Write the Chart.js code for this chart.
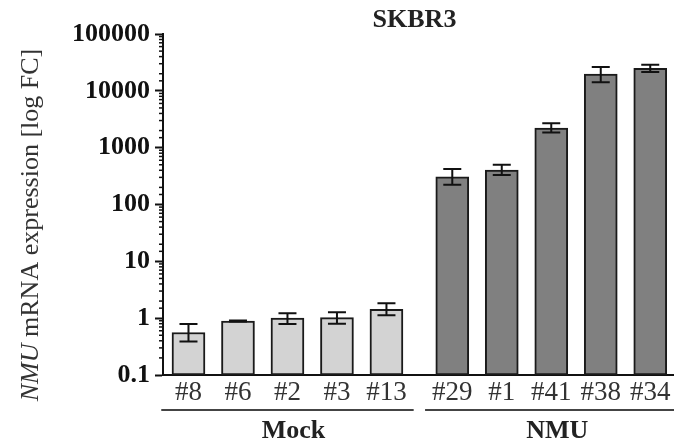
<!DOCTYPE html>
<html>
<head>
<meta charset="utf-8">
<script src="https://cdn.jsdelivr.net/npm/chart.js@4/dist/chart.umd.min.js"></script>
<style>
  body { margin: 0; background: #fff; }
  #wrap { width: 674px; height: 445px; position: relative; }
</style>
</head>
<body>
<div id="wrap"><canvas id="barChart"></canvas></div>
<script>
// Data
const mockLabels = ['#8', '#6', '#2', '#3', '#13'];
const nmuLabels = ['#29', '#1', '#41', '#38', '#34'];
const mockValues = [0.56, 0.89, 1.0, 1.02, 1.43];
const mockLow = [0.39, 0.87, 0.79, 0.80, 1.12];
const mockHigh = [0.79, 0.91, 1.22, 1.27, 1.83];
const nmuValues = [308, 405, 2220, 19800, 24900];
const nmuLow = [223, 331, 1840, 14100, 21500];
const nmuHigh = [422, 502, 2690, 26300, 28800];
const yTicks = [0.1, 1, 10, 100, 1000, 10000, 100000];
const groupNames = ['Mock', 'NMU'];
const chartTitle = 'SKBR3';

const serif = '"Liberation Serif", "Times New Roman", serif';
const groupGap = 0.33;

const labels = mockLabels.concat(nmuLabels);
const values = mockValues.concat(nmuValues);
const lows = mockLow.concat(nmuLow);
const highs = mockHigh.concat(nmuHigh);
const positions = labels.map((l, i) => i < mockLabels.length ? i : i + groupGap);
const colors = labels.map((l, i) => i < mockLabels.length ? '#d3d3d3' : '#808080');

function isPow10(v) {
  const e = Math.log10(v);
  return Math.abs(e - Math.round(e)) < 1e-9;
}

const extras = {
  id: 'extras',
  afterDatasetsDraw(chart) {
    const ctx = chart.ctx;
    const ys = chart.scales.y;
    const meta = chart.getDatasetMeta(0);
    ctx.save();
    ctx.strokeStyle = '#111';
    ctx.lineWidth = 2;
    // error bars
    meta.data.forEach((bar, i) => {
      const yl = ys.getPixelForValue(lows[i]);
      const yh = ys.getPixelForValue(highs[i]);
      ctx.beginPath();
      ctx.moveTo(bar.x, yl); ctx.lineTo(bar.x, yh);
      ctx.moveTo(bar.x - 9, yl); ctx.lineTo(bar.x + 9, yl);
      ctx.moveTo(bar.x - 9, yh); ctx.lineTo(bar.x + 9, yh);
      ctx.stroke();
    });
    // minor ticks on the log axis
    ctx.lineWidth = 1.5;
    ys.ticks.forEach(t => {
      if (isPow10(t.value)) return;
      const y = ys.getPixelForValue(t.value);
      ctx.beginPath();
      ctx.moveTo(ys.right - 4, y); ctx.lineTo(ys.right, y);
      ctx.stroke();
    });
    ctx.restore();
  },
  afterDraw(chart) {
    const ctx = chart.ctx;
    const xs = chart.scales.x;
    const area = chart.chartArea;
    ctx.save();
    // title
    ctx.fillStyle = '#222';
    ctx.font = 'bold 26px ' + serif;
    ctx.textAlign = 'center';
    ctx.textBaseline = 'middle';
    ctx.fillText(chartTitle, (area.left + area.right) / 2 - 4, 20);

    // group lines and names
    const slot = xs.getPixelForValue(1) - xs.getPixelForValue(0);
    const groups = [positions.slice(0, mockLabels.length), positions.slice(mockLabels.length)];
    groups.forEach((g, k) => {
      const a = xs.getPixelForValue(g[0]) - 0.55 * slot;
      const b = Math.min(chart.width, xs.getPixelForValue(g[g.length - 1]) + 0.55 * slot);
      ctx.strokeStyle = '#444';
      ctx.lineWidth = 2;
      ctx.beginPath();
      ctx.moveTo(a, 410); ctx.lineTo(b, 410);
      ctx.stroke();
      const c = (xs.getPixelForValue(g[0]) + xs.getPixelForValue(g[g.length - 1])) / 2 + 6;
      ctx.fillStyle = '#222';
      ctx.font = 'bold 26px ' + serif;
      ctx.fillText(groupNames[k], c, 431);
    });

    // y axis title with italic gene name
    ctx.translate(31, 225);
    ctx.rotate(-Math.PI / 2);
    ctx.textAlign = 'left';
    ctx.fillStyle = '#333';
    const p1 = 'NMU';
    const p2 = ' mRNA expression [log FC]';
    ctx.font = 'italic 26px ' + serif;
    const w1 = ctx.measureText(p1).width;
    ctx.font = '26px ' + serif;
    const w2 = ctx.measureText(p2).width;
    const x0 = -(w1 + w2) / 2;
    ctx.font = 'italic 26px ' + serif;
    ctx.fillText(p1, x0, 0);
    ctx.font = '26px ' + serif;
    ctx.fillText(p2, x0 + w1, 0);
    ctx.restore();
  }
};

const ctx = document.getElementById('barChart').getContext('2d');

new Chart(ctx, {
  type: 'bar',
  data: {
    datasets: [
      {
        data: positions.map((p, i) => ({ x: p, y: values[i] })),
        backgroundColor: colors,
        borderColor: '#1a1a1a',
        borderWidth: 2,
        borderSkipped: false,
        barThickness: 33
      }
    ]
  },
  options: {
    responsive: true,
    maintainAspectRatio: false,
    animation: false,
    layout: { padding: { top: 34, left: 0, right: 0, bottom: 0 } },
    plugins: {
      legend: { display: false },
      tooltip: { enabled: false }
    },
    scales: {
      x: {
        type: 'linear',
        min: -0.515,
        max: 9.81,
        offset: false,
        grid: { display: false },
        border: { display: true, color: '#111', width: 2 },
        afterBuildTicks: scale => { scale.ticks = positions.map(v => ({ value: v })); },
        afterFit: scale => { scale.height = 70; },
        ticks: {
          autoSkip: false,
          maxRotation: 0,
          padding: -6,
          color: '#333',
          font: { family: serif, size: 27 },
          callback: (v, i) => labels[i]
        }
      },
      y: {
        type: 'logarithmic',
        min: yTicks[0],
        max: yTicks[yTicks.length - 1],
        grid: {
          display: true,
          drawOnChartArea: false,
          drawTicks: true,
          tickLength: 8,
          tickWidth: 2,
          tickColor: c => isPow10(c.tick.value) ? '#111' : 'rgba(0,0,0,0)'
        },
        border: { display: true, color: '#111', width: 2 },
        afterFit: scale => { scale.width = 163; },
        ticks: {
          autoSkip: false,
          padding: 5,
          color: '#111',
          font: { family: serif, size: 26, weight: 'bold' },
          callback: v => yTicks.includes(Number(Number(v).toPrecision(6))) ? String(Number(Number(v).toPrecision(6))) : ''
        }
      }
    }
  },
  plugins: [extras]
});
</script>
</body>
</html>
